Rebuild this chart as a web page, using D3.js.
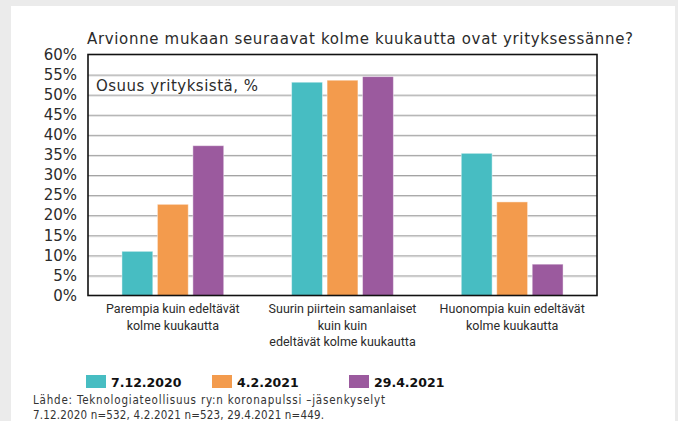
<!DOCTYPE html>
<html>
<head>
<meta charset="utf-8">
<script src="https://cdn.jsdelivr.net/npm/d3@7"></script>
<style>
  html, body { margin: 0; padding: 0; background: #ebebeb; }
  svg { display: block; }
</style>
</head>
<body>
<div id="chart"></div>
<script>
// data
var categories = [
	["Parempia kuin edeltävät", "kolme kuukautta"],
	["Suurin piirtein samanlaiset", "kuin kuin", "edeltävät kolme kuukautta"],
	["Huonompia kuin edeltävät", "kolme kuukautta"]
];
var seriesNames = ["7.12.2020", "4.2.2021", "29.4.2021"];
var dec2020 = [11.0, 53.1, 35.4];
var feb2021 = [22.7, 53.6, 23.3];
var apr2021 = [37.3, 54.5, 7.8];
var yTicks = [0, 5, 10, 15, 20, 25, 30, 35, 40, 45, 50, 55, 60];
var colors = ["#47bdc2", "#f39b4d", "#9b5a9e"];

var title = "Arvionne mukaan seuraavat kolme kuukautta ovat yrityksessänne?";
var unitLabel = "Osuus yrityksistä, %";
var source = ["Lähde: Teknologiateollisuus ry:n koronapulssi –jäsenkyselyt",
	"7.12.2020 n=532, 4.2.2021 n=523, 29.4.2021 n=449."];
var sourceWidths = [352, 291];

var width = 678,
	height = 421;
var margin = {top: 54.5, right: 81, bottom: 125.5, left: 88};

var svg = d3.select("#chart")
	.append("svg")
	.attr("width", width)
	.attr("height", height);

// white panel on the grey page
svg.append("rect")
	.attr("x", 11).attr("y", 6)
	.attr("width", 664).attr("height", height)
	.attr("fill", "#fff");

var x0 = d3.scaleBand()
	.domain(d3.range(categories.length))
	.range([margin.left, width - margin.right])
	.paddingInner(0.4)
	.paddingOuter(0.2);

var x1 = d3.scaleBand()
	.domain(d3.range(seriesNames.length))
	.range([0, x0.bandwidth()])
	.paddingInner(0.13);

var y = d3.scaleLinear()
	.domain([0, 60])
	.range([height - margin.bottom, margin.top]);

// gridlines with a light shadow under them
var grid = svg.append("g");
grid.selectAll("line.shadow")
	.data(yTicks.slice(1, -1))
	.enter()
	.append("line")
	.attr("class", "shadow")
	.attr("x1", margin.left).attr("x2", width - margin.right)
	.attr("y1", function (d) { return y(d) + 1.5; })
	.attr("y2", function (d) { return y(d) + 1.5; })
	.attr("stroke", "#dedede")
	.attr("stroke-width", 1);
grid.selectAll("line.main")
	.data(yTicks.slice(1, -1))
	.enter()
	.append("line")
	.attr("class", "main")
	.attr("x1", margin.left).attr("x2", width - margin.right)
	.attr("y1", function (d) { return y(d) + 0.5; })
	.attr("y2", function (d) { return y(d) + 0.5; })
	.attr("stroke", "#a3a3a3")
	.attr("stroke-width", 1);

// bars
var allSeries = [dec2020, feb2021, apr2021];
allSeries.forEach(function (vals, s) {
	svg.append("g")
		.selectAll("rect")
		.data(vals)
		.enter()
		.append("rect")
		.attr("x", function (d, i) { return x0(i) + x1(s); })
		.attr("y", function (d) { return y(d); })
		.attr("width", x1.bandwidth())
		.attr("height", function (d) { return y(0) - y(d); })
		.attr("fill", colors[s])
		.attr("stroke", "#fff")
		.attr("stroke-opacity", 0.45)
		.attr("stroke-width", 1);
});

// frame
svg.append("rect")
	.attr("x", margin.left).attr("y", margin.top)
	.attr("width", width - margin.left - margin.right)
	.attr("height", height - margin.top - margin.bottom)
	.attr("fill", "none")
	.attr("stroke", "#111")
	.attr("stroke-width", 1.6);

// y axis labels
var yAxis = d3.axisLeft(y)
	.tickValues(yTicks)
	.tickFormat(function (d) { return d + "%"; })
	.tickSize(0)
	.tickPadding(11);
var ya = svg.append("g")
	.attr("transform", "translate(" + margin.left + ",0)")
	.call(yAxis);
ya.select(".domain").remove();
ya.selectAll("text")
	.attr("fill", "#2b2b2b")
	.style("font-family", "DejaVu Sans")
	.style("font-size", "15px");

// category labels
var cat = svg.append("g")
	.selectAll("text")
	.data(categories)
	.enter()
	.append("text")
	.attr("x", function (d, i) { return x0(i) + x0.bandwidth() / 2; })
	.attr("y", 313)
	.attr("text-anchor", "middle")
	.attr("fill", "#2b2b2b")
	.style("font-family", "Roboto")
	.style("font-size", "12.5px");
cat.selectAll("tspan")
	.data(function (d) { return d; })
	.enter()
	.append("tspan")
	.attr("x", function () { return d3.select(this.parentNode).attr("x"); })
	.attr("dy", function (d, i) { return i === 0 ? 0 : 16.5; })
	.text(function (d) { return d; });

// title
svg.append("text")
	.attr("x", 87).attr("y", 44)
	.attr("fill", "#2b2b2b")
	.attr("textLength", 546)
	.attr("lengthAdjust", "spacing")
	.style("font-family", "DejaVu Sans")
	.style("font-size", "15px")
	.text(title);

svg.append("text")
	.attr("x", 96).attr("y", 91)
	.attr("fill", "#2b2b2b")
	.attr("textLength", 162)
	.attr("lengthAdjust", "spacing")
	.style("font-family", "DejaVu Sans")
	.style("font-size", "15px")
	.text(unitLabel);

// legend
var legendX = [86, 212, 349];
var legend = svg.append("g")
	.selectAll("g")
	.data(seriesNames)
	.enter()
	.append("g")
	.attr("transform", function (d, i) { return "translate(" + legendX[i] + ",375)"; });
legend.append("rect")
	.attr("width", 20).attr("height", 13)
	.attr("fill", function (d, i) { return colors[i]; });
legend.append("text")
	.attr("x", 25).attr("y", 12)
	.attr("fill", "#111")
	.style("font-family", "DejaVu Sans")
	.style("font-weight", "bold")
	.style("font-size", "12.5px")
	.text(function (d) { return d; });

// source note
svg.append("g")
	.selectAll("text")
	.data(source)
	.enter()
	.append("text")
	.attr("x", 33)
	.attr("y", function (d, i) { return 404 + i * 15; })
	.attr("fill", "#333")
	.attr("textLength", function (d, i) { return sourceWidths[i]; })
	.attr("lengthAdjust", "spacing")
	.style("font-family", "DejaVu Sans Condensed")
	.style("font-size", "11.5px")
	.text(function (d) { return d; });
</script>
</body>
</html>
